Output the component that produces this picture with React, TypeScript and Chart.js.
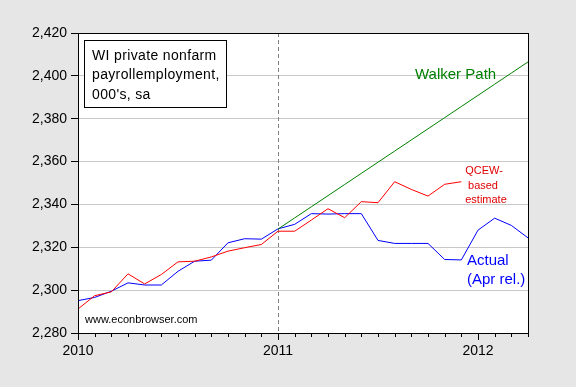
import React, { useEffect, useRef } from "react";
import { Chart, registerables } from "chart.js";

Chart.register(...registerables);

// Months from 2010M01 (index 0) to 2012M04 (index 27)
const monthIndex: number[] = Array.from({ length: 28 }, (_, i) => i);

const actual: number[] = [
  2295.1, 2296.6, 2299.5, 2303.4, 2302.4, 2302.4, 2308.8, 2313.5, 2314.0, 2322.1, 2324.0, 2323.8,
  2328.6, 2330.7, 2335.7, 2335.5, 2335.7, 2335.7, 2323.2, 2321.8, 2321.8, 2321.8, 2314.3, 2314.1,
  2328.0, 2333.6, 2330.2, 2324.4,
];

const qcew: (number | null)[] = [
  2291.2, 2297.4, 2299.2, 2307.6, 2302.9, 2307.3, 2313.2, 2313.5, 2315.5, 2318.2, 2319.8, 2321.3,
  2327.5, 2327.5, 2332.7, 2338.0, 2333.8, 2341.3, 2340.8, 2350.6, 2347.0, 2343.9, 2349.4, 2350.6,
  null, null, null, null,
];

const walker: (number | null)[] = [
  null, null, null, null, null, null, null, null, null, null, null, null,
  2328.5, 2333.7, 2338.9, 2344.1, 2349.3, 2354.5, 2359.7, 2364.9, 2370.1, 2375.3, 2380.5, 2385.7,
  2390.9, 2396.1, 2401.3, 2406.5,
];

const yearTicks: { [k: number]: string } = { 0: "2010", 12: "2011", 24: "2012" };
const boxLines: string[] = ["WI private nonfarm", "payrollemployment,", "000's, sa"];

const FONT = "'Liberation Sans', Arial, sans-serif";

const overlay = {
  id: "overlay",
  beforeDraw(chart: any) {
    const { ctx, chartArea: a } = chart;
    ctx.save();
    ctx.fillStyle = "#fff";
    ctx.fillRect(a.left, a.top, a.right - a.left, a.bottom - a.top);
    ctx.restore();
  },
  beforeDatasetsDraw(chart: any) {
    const { ctx, chartArea: a, scales } = chart;
    const x = Math.round(scales.x.getPixelForValue(12)) + 0.5;
    ctx.save();
    ctx.strokeStyle = "#808080";
    ctx.lineWidth = 1;
    ctx.setLineDash([4, 3]);
    ctx.beginPath();
    ctx.moveTo(x, a.top);
    ctx.lineTo(x, a.bottom);
    ctx.stroke();
    ctx.restore();
  },
  afterDatasetsDraw(chart: any) {
    const { ctx, chartArea: a, scales } = chart;
    ctx.save();
    // frame
    ctx.strokeStyle = "#000";
    ctx.lineWidth = 1;
    ctx.strokeRect(Math.round(a.left) + 0.5, Math.round(a.top) + 0.5, Math.round(a.right - a.left), Math.round(a.bottom - a.top));
    // x ticks
    for (const m of monthIndex) {
      const px = Math.round(scales.x.getPixelForValue(m)) + 0.5;
      const len = m % 12 === 0 ? 7 : 4;
      ctx.beginPath();
      ctx.moveTo(px, a.bottom);
      ctx.lineTo(px, a.bottom + len);
      ctx.stroke();
    }
    // text box
    ctx.fillStyle = "#fff";
    ctx.fillRect(84.5, 40.5, 142, 67);
    ctx.strokeRect(84.5, 40.5, 142, 67);
    ctx.fillStyle = "#000";
    ctx.font = `14px ${FONT}`;
    ctx.textBaseline = "middle";
    ctx.textAlign = "left";
    (ctx as any).letterSpacing = "0.35px";
    boxLines.forEach((t, i) => ctx.fillText(t, 92, 56 + i * 19.5));
    (ctx as any).letterSpacing = "0px";
    // watermark
    ctx.font = `11px ${FONT}`;
    ctx.fillText("www.econbrowser.com", 85, 320);
    // Walker Path
    ctx.fillStyle = "#008000";
    ctx.font = `15px ${FONT}`;
    ctx.fillText("Walker Path", 415, 75);
    // QCEW
    ctx.fillStyle = "#e00000";
    ctx.font = `11px ${FONT}`;
    ctx.textAlign = "center";
    ctx.fillText("QCEW-", 484, 171);
    ctx.fillText("based", 483, 186);
    ctx.fillText("estimate", 486, 200);
    // Actual
    ctx.fillStyle = "#0000ff";
    ctx.font = `15px ${FONT}`;
    ctx.textAlign = "left";
    ctx.fillText("Actual", 467, 261);
    ctx.fillText("(Apr rel.)", 467, 280);
    ctx.restore();
  },
};

export default function App() {
  const ref = useRef<HTMLCanvasElement | null>(null);
  useEffect(() => {
    document.body.style.margin = "0";
    const canvas = ref.current!;
    const chart = new Chart(canvas, {
      type: "line",
      data: {
        labels: monthIndex,
        datasets: [
          { label: "Walker Path", data: walker.map((v, i) => ({ x: monthIndex[i], y: v })), borderColor: "#008000", borderWidth: 1, pointRadius: 0, tension: 0 },
          { label: "QCEW-based estimate", data: qcew.map((v, i) => ({ x: monthIndex[i], y: v })), borderColor: "#ff0000", borderWidth: 1, pointRadius: 0, tension: 0 },
          { label: "Actual", data: actual.map((v, i) => ({ x: monthIndex[i], y: v })), borderColor: "#0000ff", borderWidth: 1, pointRadius: 0, tension: 0 },
        ],
      } as any,
      options: {
        animation: false,
        responsive: false,
        devicePixelRatio: 1,
        layout: { padding: { top: 33, right: 48, left: 0, bottom: 0 } },
        plugins: { legend: { display: false }, tooltip: { enabled: false } },
        scales: {
          x: {
            type: "linear",
            min: 0,
            max: 27,
            grid: { display: false },
            border: { display: false },
            afterFit: (s: any) => { s.height = 54; },
            afterBuildTicks: (s: any) => { s.ticks = monthIndex.map((v) => ({ value: v })); },
            ticks: {
              autoSkip: false,
              maxRotation: 0,
              padding: 2,
              color: "#000",
              font: { family: FONT, size: 14 },
              callback: (v: any) => yearTicks[v] ?? "",
            },
          },
          y: {
            min: 2280,
            max: 2420,
            grid: { color: "#c8c8c8", tickColor: "#000", tickLength: 7 },
            border: { display: true, color: "#000" },
            afterFit: (s: any) => { s.width = 78; },
            ticks: {
              stepSize: 20,
              padding: 4,
              color: "#000",
              font: { family: FONT, size: 14 },
              callback: (v: any) => Number(v).toLocaleString("en-US"),
            },
          },
        },
      },
      plugins: [overlay],
    });
    return () => chart.destroy();
  }, []);
  return (
    <div style={{ position: "fixed", left: 0, top: 0, width: 576, height: 387, background: "#e6e6e6" }}>
      <canvas ref={ref} width={576} height={387} style={{ display: "block" }} />
    </div>
  );
}
